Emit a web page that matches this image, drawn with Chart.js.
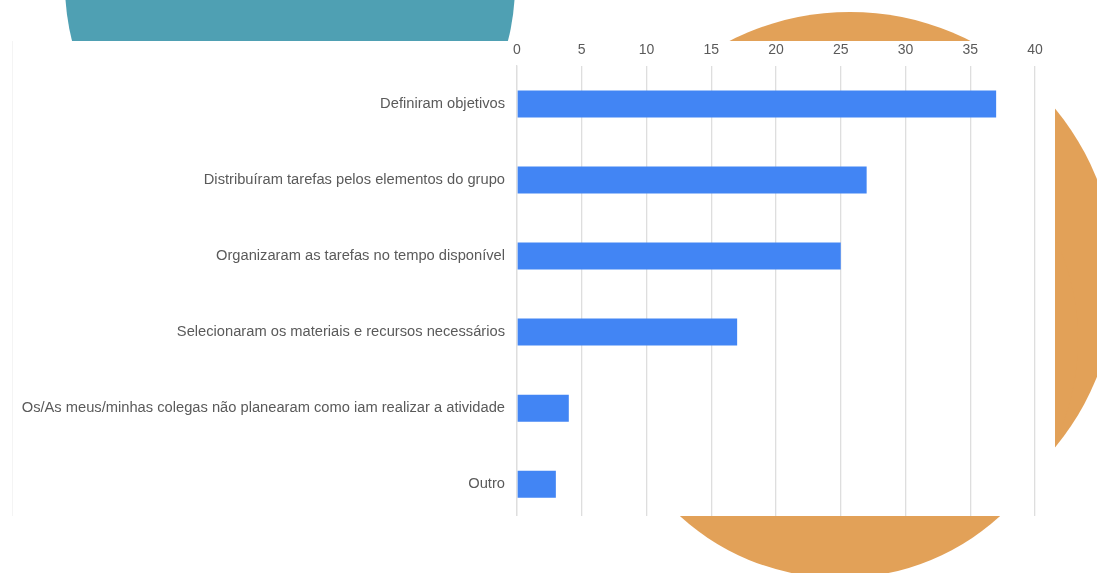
<!DOCTYPE html>
<html>
<head>
<meta charset="utf-8">
<script src="https://cdn.jsdelivr.net/npm/chart.js@4/dist/chart.umd.min.js"></script>
<style>
  html, body { margin: 0; padding: 0; background: #fff; }
  body { width: 1097px; height: 573px; position: relative; overflow: hidden; }
  .blob { position: absolute; border-radius: 50%; }
  #teal { left: 65px; top: -240px; width: 450px; height: 450px; background: #4fa0b3; }
  /* orange decoration: one round shape for the top/right, another for the bottom */
  #orangeA { left: 584px; top: 12px; width: 532px; height: 532px; background: #e2a158; }
  #orangeB { left: 602px; top: 102px; width: 476px; height: 476px; background: #e2a158; }
  #panel { position: absolute; left: 12px; top: 41px; width: 1043px; height: 475px; overflow: hidden; background: #fff; border-left: 1px solid #f4f4f4; box-sizing: border-box; }
  #wrap { position: absolute; left: -1px; top: 0; width: 1043px; height: 502px; }
</style>
</head>
<body>
<div class="blob" id="teal"></div>
<div class="blob" id="orangeA"></div>
<div class="blob" id="orangeB"></div>
<div id="panel">
  <div id="wrap"><canvas id="chart"></canvas></div>
</div>
<script>
// --- DATA ---
const categories = [
    'Definiram objetivos',
    'Distribuíram tarefas pelos elementos do grupo',
    'Organizaram as tarefas no tempo disponível',
    'Selecionaram os materiais e recursos necessários',
    'Os/As meus/minhas colegas não planearam como iam realizar a atividade',
    'Outro'
];
const counts = [37, 27, 25, 17, 4, 3];
const xMin = 0, xMax = 40, xStep = 5;

const gridColor = '#dedede';
const textColor = '#5a5a5a';
const fontFamily = '"Liberation Sans", Arial, sans-serif';

// --- CHART ---
new Chart(document.getElementById('chart').getContext('2d'), {
    type: 'bar',
    data: {
        labels: categories,
        datasets: [{
            data: counts,
            backgroundColor: '#4285f4',
            borderWidth: 0,
            categoryPercentage: 1,
            barPercentage: 0.355
        }]
    },
    options: {
        indexAxis: 'y',
        responsive: true,
        maintainAspectRatio: false,
        animation: false,
        layout: { padding: { left: 0, right: 20, top: 0, bottom: 9 } },
        plugins: { legend: { display: false }, tooltip: { enabled: false } },
        scales: {
            x: {
                position: 'top',
                min: xMin,
                max: xMax,
                ticks: { stepSize: xStep, padding: 7, color: textColor, font: { family: fontFamily, size: 14 } },
                grid: { color: gridColor, lineWidth: 1.3, drawTicks: false },
                border: { display: false },
                afterFit: s => { s.height = 25; }
            },
            y: {
                ticks: { padding: 12, color: textColor, font: { family: fontFamily, size: 14.7 } },
                grid: { display: false, drawTicks: false },
                border: { display: true, color: gridColor, width: 1.3 },
                afterFit: s => { s.width = 505; }
            }
        }
    }
});
</script>
</body>
</html>
